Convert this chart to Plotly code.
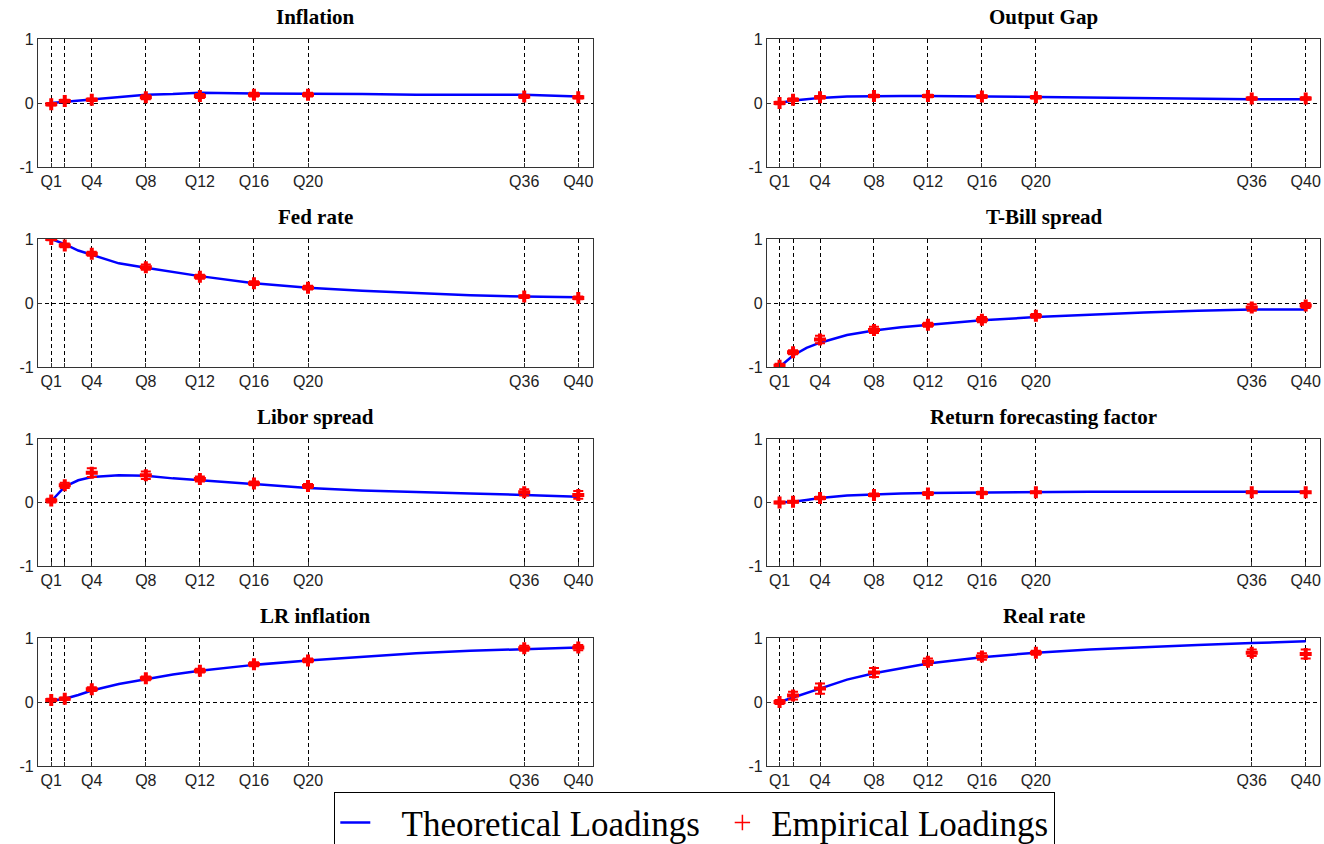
import plotly.graph_objects as go

titles = ["Inflation", "Output Gap", "Fed rate", "T-Bill spread",
          "Libor spread", "Return forecasting factor", "LR inflation", "Real rate"]

tick_q = [1, 2, 4, 8, 12, 16, 20, 36, 40]
tick_labels = ["Q1", "", "Q4", "Q8", "Q12", "Q16", "Q20", "Q36", "Q40"]

# Empirical loadings at the quarters in emp_x
emp_x = [1, 2, 4, 8, 12, 16, 20, 36, 40]
emp_inflation = [-0.02, 0.03, 0.05, 0.09, 0.11, 0.13, 0.13, 0.10, 0.09]
emp_output = [0.00, 0.05, 0.09, 0.11, 0.11, 0.10, 0.09, 0.07, 0.07]
emp_fed = [1.00, 0.90, 0.77, 0.56, 0.41, 0.31, 0.24, 0.10, 0.08]
emp_tbill = [-0.98, -0.77, -0.57, -0.42, -0.34, -0.26, -0.20, -0.07, -0.04]
emp_libor = [0.03, 0.27, 0.47, 0.43, 0.37, 0.30, 0.26, 0.16, 0.12]
emp_rff = [0.00, 0.01, 0.07, 0.12, 0.14, 0.15, 0.16, 0.16, 0.16]
emp_lrinf = [0.03, 0.05, 0.20, 0.37, 0.49, 0.59, 0.65, 0.84, 0.85]
emp_real = [0.00, 0.10, 0.21, 0.46, 0.63, 0.71, 0.77, 0.77, 0.75]

err_inflation = [0.02, 0.02, 0.02, 0.03, 0.03, 0.03, 0.03, 0.02, 0.02]
err_output = [0.02, 0.02, 0.02, 0.02, 0.02, 0.02, 0.02, 0.02, 0.02]
err_fed = [0.02, 0.03, 0.03, 0.04, 0.03, 0.03, 0.03, 0.02, 0.02]
err_tbill = [0.03, 0.03, 0.06, 0.05, 0.03, 0.04, 0.03, 0.05, 0.04]
err_libor = [0.03, 0.04, 0.07, 0.06, 0.04, 0.03, 0.03, 0.05, 0.06]
err_rff = [0.01, 0.01, 0.02, 0.02, 0.02, 0.02, 0.01, 0.01, 0.01]
err_lrinf = [0.02, 0.02, 0.03, 0.03, 0.03, 0.03, 0.03, 0.04, 0.04]
err_real = [0.03, 0.06, 0.08, 0.07, 0.05, 0.05, 0.03, 0.05, 0.07]

# Theoretical loadings
th_x = [1, 2, 3, 4, 6, 8, 10, 12, 16, 20, 24, 28, 32, 36, 40]
th_inflation = [0.00, 0.02, 0.04, 0.06, 0.10, 0.13, 0.14, 0.16, 0.15, 0.15, 0.14, 0.13, 0.13, 0.13, 0.10]
th_output = [0.00, 0.04, 0.06, 0.08, 0.10, 0.11, 0.11, 0.11, 0.10, 0.09, 0.08, 0.08, 0.07, 0.06, 0.06]
th_fed = [1.00, 0.92, 0.82, 0.75, 0.62, 0.55, 0.48, 0.42, 0.31, 0.24, 0.19, 0.15, 0.12, 0.10, 0.09]
th_tbill = [-1.00, -0.82, -0.70, -0.62, -0.50, -0.43, -0.38, -0.34, -0.27, -0.22, -0.18, -0.15, -0.12, -0.10, -0.10]
th_libor = [0.02, 0.25, 0.35, 0.40, 0.43, 0.42, 0.38, 0.35, 0.29, 0.23, 0.19, 0.16, 0.14, 0.12, 0.09]
th_rff = [0.00, 0.01, 0.04, 0.07, 0.11, 0.13, 0.14, 0.15, 0.16, 0.17, 0.17, 0.17, 0.17, 0.17, 0.17]
th_lrinf = [0.02, 0.05, 0.11, 0.18, 0.28, 0.36, 0.43, 0.49, 0.58, 0.65, 0.71, 0.76, 0.80, 0.83, 0.85]
th_real = [0.00, 0.07, 0.15, 0.22, 0.35, 0.45, 0.53, 0.60, 0.70, 0.77, 0.82, 0.86, 0.89, 0.92, 0.95]

emp = [emp_inflation, emp_output, emp_fed, emp_tbill, emp_libor, emp_rff, emp_lrinf, emp_real]
errs = [err_inflation, err_output, err_fed, err_tbill, err_libor, err_rff, err_lrinf, err_real]
th = [th_inflation, th_output, th_fed, th_tbill, th_libor, th_rff, th_lrinf, th_real]

W, H = 1324, 844
col_px = [(38, 593), (767, 1320)]
col_range = [[0.02, 41.09], [0.07, 41.06]]
row_px = [(39, 167), (239, 367), (439, 566), (638, 766)]

NB = "\u00a0"

fig = go.Figure()
annotations = []
for i in range(8):
    r, c = divmod(i, 2)
    n = i + 1
    xa = "x" if n == 1 else f"x{n}"
    ya = "y" if n == 1 else f"y{n}"
    fig.add_trace(go.Scatter(
        x=th_x, y=th[i], mode="lines", xaxis=xa, yaxis=ya,
        line=dict(color="#0000ff", width=2.5),
        name=NB * 3 + "Theoretical Loadings" + NB * 2, showlegend=(i == 0)))
    fig.add_trace(go.Scatter(
        x=emp_x, y=emp[i], mode="markers", xaxis=xa, yaxis=ya,
        marker=dict(symbol="cross", color="#ff0000", size=10),
        error_y=dict(type="data", array=errs[i], color="#ff0000", thickness=2, width=5),
        name="Empirical Loadings", showlegend=False))
    x0, x1 = col_px[c]
    y0, y1 = row_px[r]
    xd = [x0 / W, x1 / W]
    yd = [1 - y1 / H, 1 - y0 / H]
    axkey = "xaxis" if n == 1 else f"xaxis{n}"
    aykey = "yaxis" if n == 1 else f"yaxis{n}"
    common = dict(showgrid=True, gridcolor="black", griddash="4px,3px", gridwidth=1,
                  showline=True, mirror=True, linecolor="#333", linewidth=1.3,
                  ticks="inside", ticklen=4, tickcolor="#333", zeroline=False,
                  automargin=False,
                  tickfont=dict(family="Liberation Sans", size=16, color="#222"))
    fig.update_layout(**{
        axkey: dict(domain=xd, anchor=ya, range=col_range[c], tickmode="array",
                    tickvals=tick_q, ticktext=tick_labels, **common),
        aykey: dict(domain=yd, anchor=xa, range=[-1, 1], tickmode="array",
                    tickvals=[-1, 0, 1], ticktext=["-1", "0", "1"], **common),
    })
    annotations.append(dict(
        text=f"<b>{titles[i]}</b>", x=(xd[0] + xd[1]) / 2, y=yd[1] + 8 / H,
        xref="paper", yref="paper", xanchor="center", yanchor="bottom",
        showarrow=False, font=dict(family="Liberation Serif", size=21, color="black")))

# legend-only entry with a thin plus marker, as in the reference legend
fig.add_trace(go.Scatter(
    x=[None], y=[None], mode="markers",
    marker=dict(symbol="cross-thin", size=11, line=dict(color="#ff0000", width=1.5)),
    name=NB + "Empirical Loadings", showlegend=True))

fig.update_layout(
    width=W, height=H, margin=dict(l=0, r=0, t=0, b=0, autoexpand=False),
    plot_bgcolor="white", paper_bgcolor="white",
    annotations=annotations,
    legend=dict(orientation="h", x=334 / W, y=52 / H, xanchor="left", yanchor="top",
                bordercolor="black", borderwidth=1.3, bgcolor="white",
                font=dict(family="Liberation Serif", size=35, color="black"),
                tracegroupgap=0),
)

fig.write_html(
    "out.html",
    config={"displayModeBar": False},
    post_script="document.body.style.margin='0';document.body.style.overflow='hidden';",
)
